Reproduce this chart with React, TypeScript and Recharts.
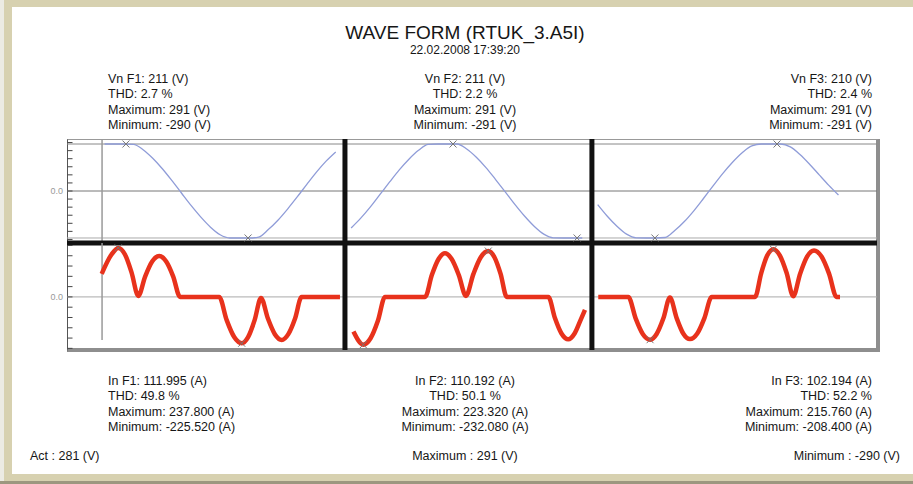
import { LineChart, Line, XAxis, YAxis, ReferenceLine, ReferenceDot } from "recharts"

type Pt = [number, number]

// time is in axis ticks (one tick per bottom mark), voltage in V, current in A
const vF1: Pt[] = [
  [1, 291], [1.5, 291], [2, 291], [2.5, 289], [3, 256], [3.5, 203], [4, 138], [4.5, 64], [5, -14],
  [5.5, -91], [6, -162], [6.5, -224], [7, -271], [7.5, -291], [8, -291], [8.5, -291], [9, -285],
  [9.5, -239], [10, -181], [10.5, -112], [11, -37], [11.5, 41], [12, 117], [12.5, 185], [13, 242],
]
const vF2: Pt[] = [
  [13.8, -229], [14.3, -168], [14.8, -98], [15.3, -21], [15.8, 56], [16.3, 131], [16.8, 197],
  [17.3, 252], [17.8, 289], [18.3, 291], [18.8, 291], [19.3, 291], [19.8, 260], [20.3, 209],
  [20.8, 145], [21.3, 71], [21.8, -5], [22.3, -83], [22.8, -155], [23.3, -218], [23.8, -267],
  [24.3, -290], [24.8, -291], [25.3, -291], [25.8, -291],
]
const vF3: Pt[] = [
  [26.6, -84], [27.1, -156], [27.6, -218], [28.1, -267], [28.6, -290], [29.1, -291], [29.6, -291],
  [30.1, -288], [30.6, -245], [31.1, -189], [31.6, -121], [32.1, -45], [32.6, 33], [33.1, 109],
  [33.6, 178], [34.1, 237], [34.6, 280], [35.1, 291], [35.6, 291], [36.1, 291], [36.6, 273],
  [37.1, 226], [37.6, 166], [38.1, 100], [38.6, 35], [39.1, -25],
]

const iF1: Pt[] = [
  [0.85, 112], [1.36, 206], [1.71, 238], [2.06, 206], [2.4, 119], [2.75, 5], [3.11, 100],
  [3.47, 172], [3.84, 199], [4.2, 172], [4.56, 100], [4.92, 0], [6.95, 0], [7.34, -113],
  [7.73, -195], [8.12, -225], [8.45, -195], [8.79, -113], [9.12, -5], [9.48, -105], [9.84, -181],
  [10.2, -209], [10.54, -181], [10.89, -105], [11.23, 0], [13.22, 0],
]
const iF2: Pt[] = [
  [13.92, -168], [14.43, -232], [14.81, -201], [15.19, -116], [15.56, 0], [17.64, 0], [17.99, 106],
  [18.34, 184], [18.67, 212], [19.02, 184], [19.39, 106], [19.76, 5], [20.15, 112], [20.53, 193],
  [20.92, 223], [21.24, 193], [21.56, 112], [21.88, 0], [24.04, 0], [24.38, -103], [24.72, -178],
  [25.07, -206], [25.4, -178], [25.7, -115], [25.94, -63],
]
const iF3: Pt[] = [
  [26.63, 0], [28.19, 0], [28.57, -104], [28.94, -180], [29.32, -208], [29.66, -180], [30.01, -104],
  [30.35, -3], [30.7, -103], [31.04, -178], [31.39, -205], [31.77, -178], [32.14, -103], [32.52, 0],
  [34.77, 0], [35.09, 116], [35.4, 201], [35.72, 232], [36.06, 201], [36.41, 116], [36.75, 3],
  [37.11, 113], [37.47, 196], [37.83, 226], [38.22, 196], [38.61, 113], [39.0, 0], [39.18, 0],
]

// max / min markers
const vMarks: Pt[] = [[2.11, 291], [8.45, -291], [19.09, 291], [25.53, -291], [29.57, -291], [35.91, 291]]
const iMarks: Pt[] = [[1.71, 238], [8.12, -225], [14.43, -232], [20.92, 223], [29.32, -208], [35.72, 232]]

const xTicks = Array.from({ length: 41 }, (_, i) => i)
const vTicks = [-300, -250, -200, -150, -100, -50, 0, 50, 100, 150, 200, 250, 300]
const iTicks = [-250, -200, -150, -100, -50, 0, 50, 100, 150, 200, 250]
const phaseSplits = [13.48, 26.3]
const cursorT = 0.87

const X_DOMAIN: [number, number] = [-0.95, 41.1]
const V_DOMAIN: [number, number] = [-322, 322]
const I_DOMAIN: [number, number] = [-258, 262]

const title = "WAVE FORM (RTUK_3.A5I)"
const stamp = "22.02.2008 17:39:20"

const voltInfo = [
  ["Vn F1: 211 (V)", "THD: 2.7 %", "Maximum: 291 (V)", "Minimum: -290 (V)"],
  ["Vn F2: 211 (V)", "THD: 2.2 %", "Maximum: 291 (V)", "Minimum: -291 (V)"],
  ["Vn F3: 210 (V)", "THD: 2.4 %", "Maximum: 291 (V)", "Minimum: -291 (V)"],
]
const currInfo = [
  ["In F1: 111.995 (A)", "THD: 49.8 %", "Maximum: 237.800 (A)", "Minimum: -225.520 (A)"],
  ["In F2: 110.192 (A)", "THD: 50.1 %", "Maximum: 223.320 (A)", "Minimum: -232.080 (A)"],
  ["In F3: 102.194 (A)", "THD: 52.2 %", "Maximum: 215.760 (A)", "Minimum: -208.400 (A)"],
]
const footer = ["Act : 281 (V)", "Maximum : 291 (V)", "Minimum : -290 (V)"]

const toRows = (pts: Pt[]) => pts.map(([t, v]) => ({ t, v }))

const FONT = "'Liberation Sans', Arial, sans-serif"
const TEXT = "#161616"
const VOLT = "#8f9cd8"
const AMP = "#e8321c"

function XMark(props: any) {
  const { cx, cy } = props
  if (cx == null || cy == null) return null
  const s = 3.5
  return (
    <g stroke="#777" strokeWidth={1}>
      <line x1={cx - s} y1={cy - s} x2={cx + s} y2={cy + s} />
      <line x1={cx - s} y1={cy + s} x2={cx + s} y2={cy - s} />
    </g>
  )
}

// left axis: short marks inside the frame, "0.0" outside
function YTick(props: any) {
  const { x, y, payload } = props
  return (
    <g>
      <line x1={x + 4.5} x2={x + 9.5} y1={y} y2={y} stroke="#444" strokeWidth={1} />
      {payload.value === 0 && (
        <text x={x} y={y} dy={3} textAnchor="end" fontSize={9} fill="#999" fontFamily={FONT}>
          {payload.value.toFixed(1)}
        </text>
      )}
    </g>
  )
}

// bottom axis: short marks pointing up
function XTick(props: any) {
  const { x, y } = props
  return <line x1={x} x2={x} y1={y - 6} y2={y - 2} stroke="#666" strokeWidth={1} />
}

function InfoBlock({ lines, top }: { lines: string[][]; top: number }) {
  const base: React.CSSProperties = {
    position: "absolute",
    top,
    fontSize: 12.5,
    lineHeight: "15.3px",
    color: TEXT,
    fontFamily: FONT,
    whiteSpace: "nowrap",
  }
  return (
    <>
      <div style={{ ...base, left: 108, textAlign: "left" }}>
        {lines[0].map((l) => <div key={l}>{l}</div>)}
      </div>
      <div style={{ ...base, left: 315, width: 300, textAlign: "center" }}>
        {lines[1].map((l) => <div key={l}>{l}</div>)}
      </div>
      <div style={{ ...base, right: 41, textAlign: "right" }}>
        {lines[2].map((l) => <div key={l}>{l}</div>)}
      </div>
    </>
  )
}

function PhaseSplits({ yAxisId }: { yAxisId: string }) {
  return (
    <>
      {phaseSplits.map((t) => (
        <ReferenceLine key={t} x={t} yAxisId={yAxisId} stroke="#111" strokeWidth={5} />
      ))}
    </>
  )
}

export default function App() {
  return (
    <div style={{ position: "absolute", left: 0, top: 0, width: 913, height: 484, background: "#d7d1b0", overflow: "hidden" }}>
      <div style={{ position: "absolute", left: 0, top: 0, width: 4, height: 484, background: "#ecebe3" }} />
      <div style={{ position: "absolute", left: 0, top: 481, width: 913, height: 3, background: "#9c977f" }} />
      <div style={{ position: "absolute", left: 12, top: 7, width: 901, height: 467, background: "#fff" }} />

      <div style={{ position: "absolute", left: 0, top: 22, width: 930, textAlign: "center", fontFamily: FONT, fontSize: 19, color: TEXT }}>
        {title}
      </div>
      <div style={{ position: "absolute", left: 0, top: 43, width: 930, textAlign: "center", fontFamily: FONT, fontSize: 12, color: TEXT }}>
        {stamp}
      </div>

      <InfoBlock lines={voltInfo} top={72} />
      <InfoBlock lines={currInfo} top={374} />

      <div style={{ position: "absolute", left: 30, top: 449, fontFamily: FONT, fontSize: 12.5, color: TEXT }}>{footer[0]}</div>
      <div style={{ position: "absolute", left: 315, width: 300, top: 449, textAlign: "center", fontFamily: FONT, fontSize: 12.5, color: TEXT }}>{footer[1]}</div>
      <div style={{ position: "absolute", right: 13, top: 449, fontFamily: FONT, fontSize: 12.5, color: TEXT }}>{footer[2]}</div>

      {/* plot frame */}
      <div
        style={{
          position: "absolute",
          left: 67,
          top: 139,
          width: 813,
          height: 213,
          boxSizing: "border-box",
          background: "#fff",
          borderLeft: "1px solid #555",
          borderTop: "1px solid #999",
          borderRight: "4px solid #8e8e8e",
          borderBottom: "4px solid #8e8e8e",
        }}
      />

      {/* voltage */}
      <div style={{ position: "absolute", left: 0, top: 120 }}>
        <LineChart width={913} height={130} margin={{ top: 19, right: 36, bottom: 7, left: 37 }}>
          <XAxis type="number" dataKey="t" domain={X_DOMAIN} allowDataOverflow hide />
          <YAxis
            yAxisId="v"
            type="number"
            domain={V_DOMAIN}
            ticks={vTicks}
            interval={0}
            width={30}
            axisLine={false}
            tickLine={false}
            tickSize={0}
            tickMargin={4}
            tick={YTick}
          />
          <ReferenceLine yAxisId="v" y={291} stroke="#888" />
          <ReferenceLine yAxisId="v" y={0} stroke="#777" />
          <ReferenceLine yAxisId="v" y={-291} stroke="#aaa" />
          <ReferenceLine yAxisId="v" x={cursorT} stroke="#999" strokeWidth={1.5} />
          <Line yAxisId="v" data={toRows(vF1)} dataKey="v" type="monotone" stroke={VOLT} strokeWidth={1.3} dot={false} isAnimationActive={false} />
          <Line yAxisId="v" data={toRows(vF2)} dataKey="v" type="monotone" stroke={VOLT} strokeWidth={1.3} dot={false} isAnimationActive={false} />
          <Line yAxisId="v" data={toRows(vF3)} dataKey="v" type="monotone" stroke={VOLT} strokeWidth={1.3} dot={false} isAnimationActive={false} />
          {vMarks.map(([t, v]) => (
            <ReferenceDot key={t} yAxisId="v" x={t} y={v} r={3} shape={XMark} />
          ))}
          {PhaseSplits({ yAxisId: "v" })}
          <ReferenceLine yAxisId="v" y={V_DOMAIN[0]} stroke="#111" strokeWidth={5} />
        </LineChart>
      </div>

      {/* current */}
      <div style={{ position: "absolute", left: 0, top: 236 }}>
        <LineChart width={913} height={130} margin={{ top: 7, right: 36, bottom: 16, left: 37 }}>
          <XAxis
            type="number"
            dataKey="t"
            domain={X_DOMAIN}
            allowDataOverflow
            ticks={xTicks}
            interval={0}
            height={0}
            axisLine={false}
            tickLine={false}
            tickSize={0}
            tickMargin={0}
            tick={XTick}
          />
          <YAxis
            yAxisId="i"
            type="number"
            domain={I_DOMAIN}
            ticks={iTicks}
            interval={0}
            width={30}
            axisLine={false}
            tickLine={false}
            tickSize={0}
            tickMargin={4}
            tick={YTick}
          />
          <ReferenceLine yAxisId="i" y={0} stroke="#aaa" />
          <ReferenceLine
            yAxisId="i"
            segment={[{ x: cursorT, y: I_DOMAIN[1] }, { x: cursorT, y: -210 }]}
            stroke="#999"
            strokeWidth={1.5}
          />
          <Line yAxisId="i" data={toRows(iF1)} dataKey="v" type="monotone" stroke={AMP} strokeWidth={4.5} dot={false} isAnimationActive={false} />
          <Line yAxisId="i" data={toRows(iF2)} dataKey="v" type="monotone" stroke={AMP} strokeWidth={4.5} dot={false} isAnimationActive={false} />
          <Line yAxisId="i" data={toRows(iF3)} dataKey="v" type="monotone" stroke={AMP} strokeWidth={4.5} dot={false} isAnimationActive={false} />
          {iMarks.map(([t, v]) => (
            <ReferenceDot key={t} yAxisId="i" x={t} y={v} r={3} shape={XMark} />
          ))}
          {PhaseSplits({ yAxisId: "i" })}
        </LineChart>
      </div>
    </div>
  )
}
